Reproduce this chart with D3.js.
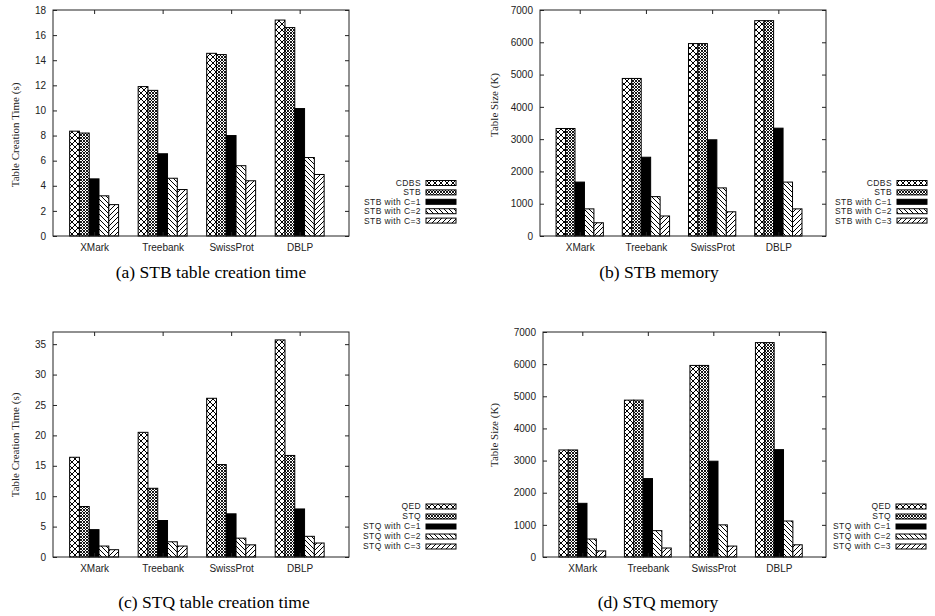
<!DOCTYPE html>
<html>
<head>
<meta charset="utf-8">
<script src="https://cdn.jsdelivr.net/npm/d3@7"></script>
<style>
  body { margin: 0; background: #fff; }
  svg { display: block; }
</style>
</head>
<body>
<script>
'use strict';

// categories (datasets)
const datasets = ["XMark", "Treebank", "SwissProt", "DBLP"];

// (a) STB table creation time (s)
const stbTimeNames = ["CDBS", "STB", "STB with C=1", "STB with C=2", "STB with C=3"];
const stbTimeCDBS = [8.35, 11.9, 14.55, 17.2];
const stbTimeSTB  = [8.2, 11.6, 14.45, 16.6];
const stbTimeC1   = [4.55, 6.55, 8.0, 10.15];
const stbTimeC2   = [3.2, 4.6, 5.6, 6.25];
const stbTimeC3   = [2.5, 3.7, 4.4, 4.9];

// (b) STB memory (K)
const stbMemCDBS = [3330, 4880, 5960, 6670];
const stbMemSTB  = [3330, 4880, 5960, 6670];
const stbMemC1   = [1670, 2440, 2980, 3340];
const stbMemC2   = [840, 1220, 1490, 1670];
const stbMemC3   = [410, 620, 750, 840];

// (c) STQ table creation time (s)
const stqTimeNames = ["QED", "STQ", "STQ with C=1", "STQ with C=2", "STQ with C=3"];
const stqTimeQED = [16.4, 20.5, 26.1, 35.7];
const stqTimeSTQ = [8.3, 11.3, 15.2, 16.7];
const stqTimeC1  = [4.5, 6.0, 7.1, 7.9];
const stqTimeC2  = [1.8, 2.5, 3.1, 3.4];
const stqTimeC3  = [1.2, 1.8, 2.0, 2.3];

// (d) STQ memory (K)
const stqMemQED = [3330, 4880, 5960, 6670];
const stqMemSTQ = [3330, 4880, 5960, 6670];
const stqMemC1  = [1670, 2440, 2980, 3340];
const stqMemC2  = [560, 820, 1000, 1120];
const stqMemC3  = [190, 280, 340, 380];

// tick values
const timeTicksA = d3.range(0, 19, 2);
const memTicks = d3.range(0, 7001, 1000);
const timeTicksC = d3.range(0, 36, 5);

const patterns = ["xhatch", "dense", "solid", "back", "fwd"];

const sans = "'Liberation Sans', Arial, sans-serif";
const serif = "'Liberation Serif', 'Times New Roman', serif";

const svg = d3.select("body").append("svg")
  .attr("width", 935)
  .attr("height", 616);

// fill patterns, gnuplot style
const defs = svg.append("defs");
function addPattern(id, size, d, sw) {
  let p = defs.append("pattern")
    .attr("id", id)
    .attr("patternUnits", "userSpaceOnUse")
    .attr("width", size)
    .attr("height", size);
  p.append("rect").attr("width", size).attr("height", size).attr("fill", "#fff");
  p.append("path").attr("d", d).attr("stroke", "#000").attr("stroke-width", sw).attr("fill", "none");
}
addPattern("xhatch", 6, "M0,0L6,6M6,0L0,6", 1);
addPattern("dense", 3, "M0,0L3,3M3,0L0,3", 0.9);
addPattern("back", 5, "M0,0L5,5M-1,4L1,6M4,-1L6,1", 1);
addPattern("fwd", 5, "M0,5L5,0M-1,1L1,-1M4,6L6,4", 1);

function fillFor(j) {
  return patterns[j] === "solid" ? "#000" : "url(#" + patterns[j] + ")";
}

// draw one panel
function drawPanel(p) {
  let g = svg.append("g");

  let xScale = d3.scaleLinear()
    .domain([-0.6, 3.72])
    .range([p.left, p.right]);

  let yScale = d3.scaleLinear()
    .domain([0, p.yMax])
    .range([p.bottom, p.top]);

  let barW = xScale(1 / 7) - xScale(0);

  // bars
  p.series.forEach((values, j) => {
    g.selectAll(".bar" + j)
      .data(values)
      .enter()
      .append("rect")
      .attr("x", (d, i) => xScale(i + (j - 2.5) / 7))
      .attr("y", (d) => yScale(d))
      .attr("width", barW)
      .attr("height", (d) => yScale(0) - yScale(d))
      .attr("fill", fillFor(j))
      .attr("stroke", "#000")
      .attr("stroke-width", 1);
  });

  // y axis left + mirror right, ticks inward
  let yAxis = d3.axisLeft(yScale).tickValues(p.ticks).tickSize(-4).tickPadding(7)
    .tickFormat(d3.format("d"));
  let ya = g.append("g")
    .attr("transform", "translate(" + p.left + ",0)")
    .call(yAxis);
  ya.select(".domain").remove();
  ya.selectAll("text")
    .style("font-family", sans)
    .style("font-size", "10px")
    .attr("fill", "#222");

  let yAxisR = d3.axisRight(yScale).tickValues(p.ticks).tickSize(-4).tickFormat("");
  let yr = g.append("g")
    .attr("transform", "translate(" + p.right + ",0)")
    .call(yAxisR);
  yr.select(".domain").remove();

  // x axis bottom + mirror top
  let xAxis = d3.axisBottom(xScale)
    .tickValues(d3.range(datasets.length))
    .tickFormat((i) => datasets[i])
    .tickSize(-4)
    .tickPadding(8);
  let xa = g.append("g")
    .attr("transform", "translate(0," + p.bottom + ")")
    .call(xAxis);
  xa.select(".domain").remove();
  xa.selectAll("text")
    .style("font-family", sans)
    .style("font-size", "10px")
    .attr("fill", "#222");

  let xAxisT = d3.axisTop(xScale).tickValues(d3.range(datasets.length)).tickSize(-4).tickFormat("");
  let xt = g.append("g")
    .attr("transform", "translate(0," + p.top + ")")
    .call(xAxisT);
  xt.select(".domain").remove();

  g.selectAll(".tick line").attr("stroke", "#222");

  // frame
  g.append("rect")
    .attr("x", p.left)
    .attr("y", p.top)
    .attr("width", p.right - p.left)
    .attr("height", p.bottom - p.top)
    .attr("fill", "none")
    .attr("stroke", "#222")
    .attr("stroke-width", 1);

  // y title
  g.append("text")
    .attr("transform", "translate(" + p.titleX + "," + p.titleY + ")rotate(-90)")
    .attr("text-anchor", "middle")
    .style("font-family", serif)
    .style("font-size", "11px")
    .attr("fill", "#222")
    .text(p.yTitle);

  // legend
  p.names.forEach((name, j) => {
    let ly = p.legendY + j * p.legendStep;
    g.append("text")
      .attr("x", p.legendX)
      .attr("y", ly)
      .attr("dy", "0.35em")
      .attr("text-anchor", "end")
      .style("font-family", sans)
      .style("font-size", "8.5px")
      .style("letter-spacing", "0.4px")
      .attr("fill", "#222")
      .text(name);
    g.append("rect")
      .attr("x", p.legendX + 5)
      .attr("y", ly - 2.5)
      .attr("width", 30)
      .attr("height", 5)
      .attr("fill", fillFor(j))
      .attr("stroke", "#000")
      .attr("stroke-width", 1);
  });

  // caption
  g.append("text")
    .attr("x", p.capX)
    .attr("y", p.capY)
    .attr("text-anchor", "middle")
    .style("font-family", serif)
    .style("font-size", "17.5px")
    .attr("fill", "#000")
    .text(p.caption);
}

drawPanel({
  left: 53, right: 349, top: 10, bottom: 236, yMax: 18, ticks: timeTicksA,
  series: [stbTimeCDBS, stbTimeSTB, stbTimeC1, stbTimeC2, stbTimeC3],
  names: stbTimeNames, yTitle: "Table Creation Time (s)", titleX: 19, titleY: 135,
  legendX: 421, legendY: 183, legendStep: 9.4,
  caption: "(a) STB table creation time", capX: 211, capY: 278
});

drawPanel({
  left: 540, right: 826, top: 10, bottom: 236, yMax: 7000, ticks: memTicks,
  series: [stbMemCDBS, stbMemSTB, stbMemC1, stbMemC2, stbMemC3],
  names: stbTimeNames, yTitle: "Table Size (K)", titleX: 498, titleY: 105,
  legendX: 892, legendY: 183, legendStep: 9.4,
  caption: "(b) STB memory", capX: 659, capY: 278
});

drawPanel({
  left: 53, right: 349, top: 332, bottom: 557, yMax: 37, ticks: timeTicksC,
  series: [stqTimeQED, stqTimeSTQ, stqTimeC1, stqTimeC2, stqTimeC3],
  names: stqTimeNames, yTitle: "Table Creation Time (s)", titleX: 19, titleY: 445,
  legendX: 421, legendY: 506.5, legendStep: 10,
  caption: "(c) STQ table creation time", capX: 214, capY: 608
});

drawPanel({
  left: 543, right: 826, top: 332, bottom: 557, yMax: 7000, ticks: memTicks,
  series: [stqMemQED, stqMemSTQ, stqMemC1, stqMemC2, stqMemC3],
  names: stqTimeNames, yTitle: "Table Size (K)", titleX: 498, titleY: 435,
  legendX: 891, legendY: 506.5, legendStep: 10,
  caption: "(d) STQ memory", capX: 658, capY: 608
});
</script>
</body>
</html>
